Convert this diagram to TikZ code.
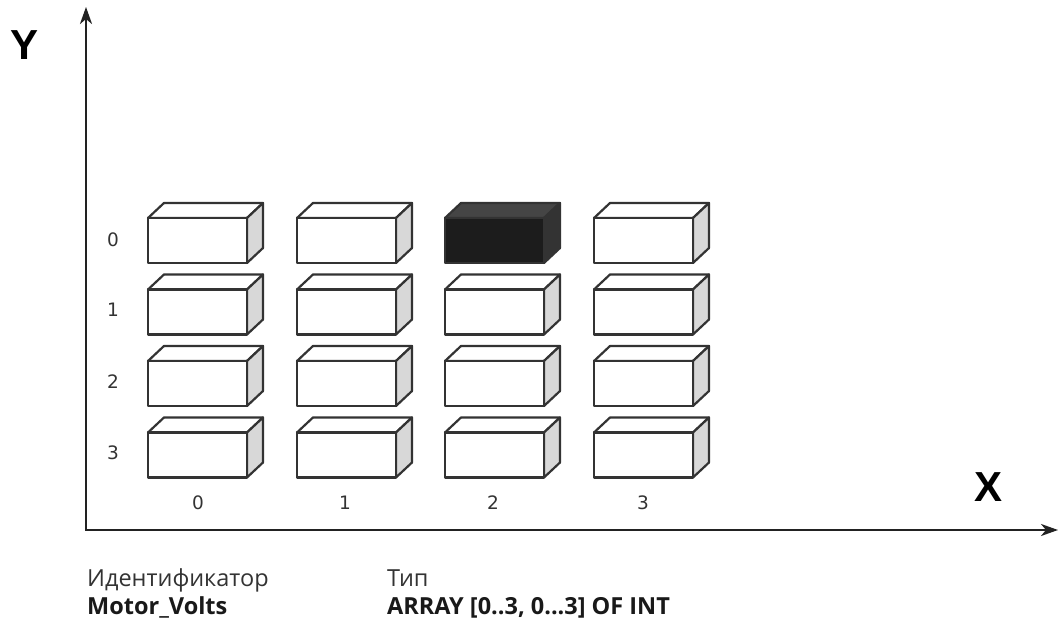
\documentclass[tikz,border=0pt]{standalone}
\usepackage{fontspec}
\setmainfont{Open Sans}
\newfontfamily\axisfont{Liberation Sans}
\newfontfamily\numfont{DejaVu Sans}
\usetikzlibrary{arrows.meta}
\definecolor{edge}{HTML}{333333}
\definecolor{axiscol}{HTML}{222222}
\definecolor{sideface}{HTML}{D8D8D8}
\definecolor{darkfront}{HTML}{1C1C1C}
\definecolor{darktop}{HTML}{454545}
\definecolor{darkside}{HTML}{333333}
\tikzset{
  axis/.style={draw=axiscol, line width=2.4pt, -{Stealth[length=17pt,width=12pt,inset=5pt]}},
  cellline/.style={draw=edge, line width=2.2pt, line join=round},
  idx/.style={font=\numfont\fontsize{18.5}{20}\selectfont, text=black!80},
  axlabel/.style={font=\axisfont\bfseries\fontsize{42}{44}\selectfont},
  caption/.style={anchor=base west, inner sep=0pt, font=\fontsize{23.5}{26}\selectfont, text=black!80},
  captionbold/.style={caption, font=\bfseries\fontsize{23.5}{26}\selectfont, text=black!90},
}
\begin{document}
\begin{tikzpicture}[x=1pt,y=-1pt]
\useasboundingbox (0,0) rectangle (1061,628);
\fill[white] (0,0) rectangle (1061,628);

% axes
\coordinate (origin) at (86,530);
\coordinate (ytip) at (86,7);
\coordinate (xtip) at (1058,530);
\draw[axis] (origin) -- (ytip);
\draw[axis] (origin) -- (xtip);
\draw[axiscol, line width=2.4pt, line cap=rect] (86,520) -- (origin) -- (96,530);
\node[axlabel] (ylab) at (25,45) {Y};
\node[axlabel] (xlab) at (988,487) {X};

% 4x4 grid of cells, each drawn as a small block
\def\w{99}\def\h{45}\def\dx{16}\def\dy{15}
\foreach \c/\xo in {0/148,1/297,2/445,3/594}{
  \foreach \r/\yo in {0/218,1/289.5,2/361,3/432.5}{
    \ifnum\c\r=20
      \def\ff{darkfront}\def\tf{darktop}\def\sf{darkside}
    \else
      \def\ff{white}\def\tf{white}\def\sf{sideface}
    \fi
    \filldraw[cellline, fill=\tf] (\xo,\yo) -- ++(\dx,-\dy) -- ++(\w,0) -- (\xo+\w,\yo) -- cycle;
    \filldraw[cellline, fill=\sf] (\xo+\w,\yo) -- ++(\dx,-\dy) -- ++(0,\h) -- (\xo+\w,\yo+\h) -- cycle;
    \filldraw[cellline, fill=\ff] (\xo,\yo) rectangle ++(\w,\h);
  }
}

% row indices
\foreach \r/\yy in {0/240,1/310,2/382,3/453}{
  \node[idx] (row\r) at (113,\yy) {\r};
}
% column indices
\foreach \c/\xx in {0/198,1/345,2/493,3/643}{
  \node[idx] (col\c) at (\xx,503) {\c};
}

% identifier and type
\node[caption] (idhead) at (87,586) {Идентификатор};
\node[captionbold] (idname) at (87,614) {Motor\_Volts};
\node[caption] (typehead) at (387,586) {Тип};
\node[captionbold] (typename) at (387,614) {ARRAY [0..3, 0...3] OF INT};
\end{tikzpicture}
\end{document}
